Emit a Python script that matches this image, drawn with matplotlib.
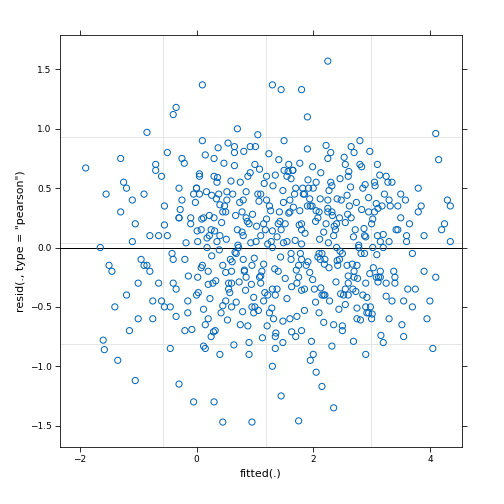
import matplotlib
matplotlib.use("Agg")
import matplotlib.pyplot as plt

# fitted values and Pearson residuals
fitted = [
-1.9,-1.55,-1.6,-1.58,-1.35,-1.05,-0.85,-0.4,-0.35,0.1,0.3,0.45,1.3,1.45,1.8,2.25,1.75,2.35,2.15,4.1,
4.15,4.3,4.35,4.35,4.05,3.95,4.0,3.55,0.95,1.45,-0.05,-0.3,2.9,3.3,3.85,3.5,-0.45,-0.75,-1.2,-1.25,
-1.05,-0.9,-1.65,-1.15,-1.45,-1.3,-1.0,-0.8,-0.7,-0.6,-0.5,-0.4,-0.3,-0.2,-0.1,0.0,0.1,0.2,0.3,0.4,
0.5,0.6,0.7,0.8,0.9,1.0,1.1,1.2,1.3,1.4,1.5,1.6,1.7,1.8,1.9,2.0,2.1,2.2,2.3,2.4,
2.5,2.6,2.7,2.8,2.9,3.0,3.1,3.2,3.3,3.4,3.6,3.7,3.8,3.9,4.2,-1.4,-1.1,-0.95,-0.65,-0.55,
-0.25,-0.15,0.05,0.15,0.25,0.35,0.55,0.65,0.75,0.85,0.95,1.05,1.15,1.25,1.35,1.55,1.65,1.75,1.85,1.95,
2.05,2.15,2.25,2.35,2.45,2.55,2.65,2.75,2.85,2.95,3.05,3.15,3.25,3.35,3.45,3.65,3.75,-0.9,-0.6,-0.3,
0.0,0.2,0.4,0.6,0.8,1.0,1.2,1.4,1.6,1.8,2.0,2.2,2.4,2.6,2.8,3.0,3.2,3.4,3.6,-1.2,
-0.8,-0.45,-0.1,0.1,0.3,0.5,0.7,0.9,1.1,1.3,1.5,1.7,1.9,2.1,2.3,2.5,2.7,2.9,3.1,3.3,
3.5,3.8,-0.7,-0.35,-0.05,0.15,0.35,0.55,0.75,0.95,1.15,1.35,1.55,1.75,1.95,2.15,2.35,2.55,2.75,2.95,
3.15,3.35,3.55,-1.0,-0.5,-0.2,0.05,0.25,0.45,0.65,0.85,1.05,1.25,1.45,1.65,1.85,2.05,2.25,2.45,2.65,
2.85,3.05,3.25,3.45,3.7,-0.65,-0.15,0.12,0.32,0.52,0.72,0.92,1.12,1.32,1.52,1.72,1.92,2.12,2.32,2.52,
2.72,2.92,3.12,3.32,-0.85,-0.25,0.02,0.22,0.42,0.62,0.82,1.02,1.22,1.42,1.62,1.82,2.02,2.22,2.42,2.62,
2.82,3.02,3.22,3.42,3.62,-1.5,-1.3,-0.55,0.08,0.28,0.48,0.68,0.88,1.08,1.28,1.48,1.68,1.88,2.08,2.28,
2.48,2.68,2.88,3.08,3.28,3.52,3.9,4.1,4.25,-0.75,-0.3,0.18,0.38,0.58,0.78,0.98,1.18,1.38,1.58,1.78,
1.98,2.18,2.38,2.58,2.78,2.98,3.18,3.38,3.58,-1.1,-0.4,0.0,0.45,0.9,1.35,1.8,2.25,2.7,3.15,0.6,
1.1,1.6,2.1,2.6,0.3,0.8,1.3,1.8,2.3,2.8,0.7,1.2,1.7,2.2]
resid = [
0.67,0.45,-0.78,-0.86,-0.95,-1.12,0.97,1.12,1.18,1.37,-1.3,-1.47,1.37,1.33,1.33,1.57,-1.46,-1.35,-1.17,0.96,
0.74,0.4,0.35,0.05,-0.85,-0.6,-0.45,-0.75,-1.47,-1.25,-1.3,-1.15,-0.9,-0.6,0.35,0.45,-0.85,-0.6,-0.4,0.55,
0.2,0.45,0.0,-0.7,-0.2,0.3,-0.3,0.1,0.65,-0.45,0.8,-0.1,0.5,-0.7,0.2,-0.4,0.9,-0.2,0.6,-0.9,
0.3,-0.5,1.0,0.1,-0.8,0.7,-0.3,0.4,-1.0,0.2,0.9,-0.6,0.5,-0.1,1.1,-0.9,0.3,-0.4,0.8,0.0,
-0.7,0.6,-0.2,0.9,-0.5,0.2,0.7,-0.8,0.4,-0.3,0.1,-0.5,0.5,-0.2,0.15,-0.5,0.4,-0.1,-0.3,0.35,
0.75,-0.55,0.45,-0.85,0.15,0.55,-0.35,0.85,-0.65,0.25,-0.15,0.95,-0.45,0.35,-0.75,0.05,0.65,-0.25,0.45,-0.95,
0.55,-0.05,0.75,-0.65,0.25,-0.35,0.85,-0.15,0.5,-0.55,0.3,-0.25,0.6,-0.45,0.15,0.2,-0.35,-0.15,0.6,0.25,
0.5,-0.6,0.1,-0.3,0.4,-0.5,0.6,-0.2,0.3,-0.7,0.5,-0.1,0.2,-0.4,0.7,-0.6,0.0,-0.25,0.05,
0.5,-0.2,-0.5,0.25,-0.15,0.75,-0.45,0.15,-0.9,0.45,-0.35,0.65,-0.75,0.35,-0.55,0.55,-0.05,0.8,-0.3,0.1,
0.05,0.25,0.3,0.7,-0.35,0.45,-0.65,0.05,-0.3,0.55,-0.5,0.2,-0.85,0.6,-0.15,0.35,-0.4,0.1,0.7,-0.6,
0.3,-0.2,0.55,-0.45,-0.6,0.1,-0.1,0.6,-0.75,0.3,0.8,-0.25,0.45,-0.55,0.15,0.65,-0.35,-1.05,0.4,
-0.1,0.25,-0.4,0.55,-0.3,0.35,-0.05,0.1,-0.45,0.25,-0.7,0.4,0.0,0.85,-0.2,-0.6,0.2,-0.3,0.5,-0.1,
0.3,-0.4,0.15,-0.55,-0.25,0.35,-0.15,0.4,-0.25,0.1,-0.55,0.45,-0.2,0.05,-0.4,0.3,-0.1,0.5,-0.35,0.2,
-0.15,0.35,-0.05,0.0,0.45,0.15,-0.35,-0.15,0.75,-0.5,0.15,-0.3,0.35,-0.05,0.6,-0.25,0.05,-0.8,0.45,
-0.15,0.25,-0.45,0.4,-0.35,0.1,-0.25,0.55,-0.65,0.1,-0.25,0.2,-0.45,0.25,0.0,0.45,-0.1,0.3,-0.55,
0.15,-0.35,0.7,-0.05,0.35,-0.4,0.15,-0.15,0.0,-0.5,0.35,-0.2,0.4,0.05,-0.3,0.5,-0.15,0.2,
-0.4,0.15,0.3,-0.25,0.05,-0.2,0.1,0.4,-0.05,-0.3,0.25,-0.1,0.0,0.2]

# extra points in the dense central part of the cloud (fitted, resid)
core_points = [
(0.05,0.62),(0.18,0.08),(0.33,-0.28),(0.47,0.71),(0.61,-0.12),(0.74,0.38),(0.88,-0.66),(1.03,0.18),(1.17,-0.38),(1.31,0.52),
(1.44,-0.08),(1.58,0.29),(1.72,-0.58),(1.86,0.12),(1.99,-0.27),(2.13,0.63),(2.27,-0.17),(2.41,0.41),(2.55,-0.48),(2.69,0.09),
(2.83,0.68),(2.97,-0.22),(3.11,0.33),(3.25,-0.41),(0.12,-0.52),(0.26,0.44),(0.39,-0.02),(0.53,-0.61),(0.67,0.27),(0.81,0.81),
(0.94,-0.31),(1.08,0.66),(1.22,0.03),(1.36,-0.72),(1.49,0.38),(1.63,-0.33),(1.77,0.71),(1.91,-0.12),(2.04,0.22),(2.18,-0.63),
(2.32,0.52),(2.46,-0.03),(2.59,0.28),(2.73,-0.37),(2.87,0.16),(3.01,-0.56),(3.14,0.61),(-0.28,0.32),(-0.14,-0.24),(0.01,0.14),
(0.15,0.78),(0.29,-0.71),(0.43,0.21),(0.57,-0.38),(0.71,0.02),(0.85,0.47),(0.99,-0.09),(1.13,-0.76),(1.27,0.31),(1.41,0.74),
(1.55,-0.43),(1.69,0.06),(1.83,0.45),(1.97,-0.79),(2.11,0.07),(2.25,0.33),(2.39,-0.29),(2.53,0.76),(2.67,-0.14),(2.81,-0.61),
(2.95,0.42),(3.09,-0.06),(-0.42,-0.05),(-0.21,0.71),(0.08,-0.17),(0.22,0.27),(0.36,0.59),(0.5,-0.21),(0.64,-0.82),(0.78,0.13),
(0.92,0.63),(1.06,-0.53),(1.2,0.24),(1.34,-0.18),(1.48,-0.62),(1.62,0.58),(1.76,0.19),(1.9,0.83),(2.04,-0.46),(2.18,0.13),
(2.32,-0.83),(2.46,0.58),(2.6,-0.24),(2.74,0.38),(2.88,-0.05),(3.02,0.24),(3.16,-0.74),(-0.35,-0.58),(-0.02,0.38),(0.12,-0.83),
(0.26,-0.07),(0.4,0.36),(0.54,0.88),(0.68,-0.46),(0.82,-0.19),(0.96,0.28),(1.1,-0.24),(1.24,0.79),(1.38,0.09),(1.52,-0.26),
(1.66,0.34),(1.8,-0.36),(1.94,0.41),(2.08,-0.08),(2.22,0.86),(2.36,0.18),(2.5,-0.66),(2.64,0.51),(2.78,0.02),(2.92,-0.42),
(3.06,0.52),(3.2,0.11),(-0.55,0.19),(-0.18,0.04),(0.03,-0.38),(0.17,0.47),(0.31,0.14),(0.45,-0.49),(0.59,0.56),(0.73,-0.29),
(0.87,0.22),(1.01,0.85),(1.15,-0.14),(1.29,-0.51),(1.43,0.22),(1.57,0.64),(1.71,-0.19),(1.85,-0.53),(1.99,0.68),(2.13,-0.34),
(2.27,0.48),(2.41,-0.11),(2.55,0.21),(2.69,-0.79),(2.83,0.32),(2.97,0.81),(3.11,-0.29),(-0.08,-0.69),(0.09,0.24),(0.23,-0.43),
(0.37,0.84),(0.51,0.07),(0.65,0.69),(0.79,-0.54),(0.93,0.04),(1.07,0.39),(1.21,-0.66),(1.35,0.61),(1.49,0.04),(1.63,-0.71),
(1.77,0.31),(1.91,0.57),(2.05,0.31),(2.19,-0.14),(2.33,0.27),(2.47,-0.39),(2.61,0.64),(2.75,-0.51),(2.89,0.53),(3.03,-0.17),
(0.02,0.05),(0.34,0.41),(0.66,-0.04),(0.98,-0.42),(1.3,0.14),(1.62,-0.05),(1.94,-0.21),(2.26,0.04),(2.58,0.44),(2.9,0.09),
(0.2,-0.31),(0.52,0.47),(0.84,-0.36),(1.16,0.54),(1.48,0.48),(1.8,0.03),(2.12,0.41),(2.44,-0.52),(2.76,-0.26),(3.08,0.37),
]

all_x = fitted[:min(len(fitted), len(resid))] + [p[0] for p in core_points]
all_y = resid[:min(len(fitted), len(resid))] + [p[1] for p in core_points]

blue = "#0066b8"
fig = plt.figure(figsize=(7, 7), dpi=72)
ax = fig.add_axes([60/504, 57/504, 402/504, 412/504])
for v in [-0.58, 1.19, 2.99]:
    ax.axvline(v, color="#e6e6e6", lw=1, zorder=0)
for h in [0.93, 0.04, -0.81]:
    ax.axhline(h, color="#e6e6e6", lw=1, zorder=0)
ax.axhline(0, color="black", lw=1, zorder=1)
ax.scatter(all_x, all_y, s=38, facecolors="none", edgecolors=blue, linewidths=1, zorder=2)
ax.set_xlim(-2.34, 4.55)
ax.set_ylim(-1.68, 1.79)
ax.set_xticks([-2, 0, 2, 4])
ax.set_yticks([-1.5, -1.0, -0.5, 0.0, 0.5, 1.0, 1.5])
ax.tick_params(direction="out", length=5, labelsize=9, top=True, right=True)
ax.set_xlabel("fitted(.)", fontsize=11)
ax.set_ylabel('resid(., type = "pearson")', fontsize=11)
fig.savefig("out.png", dpi=72)
